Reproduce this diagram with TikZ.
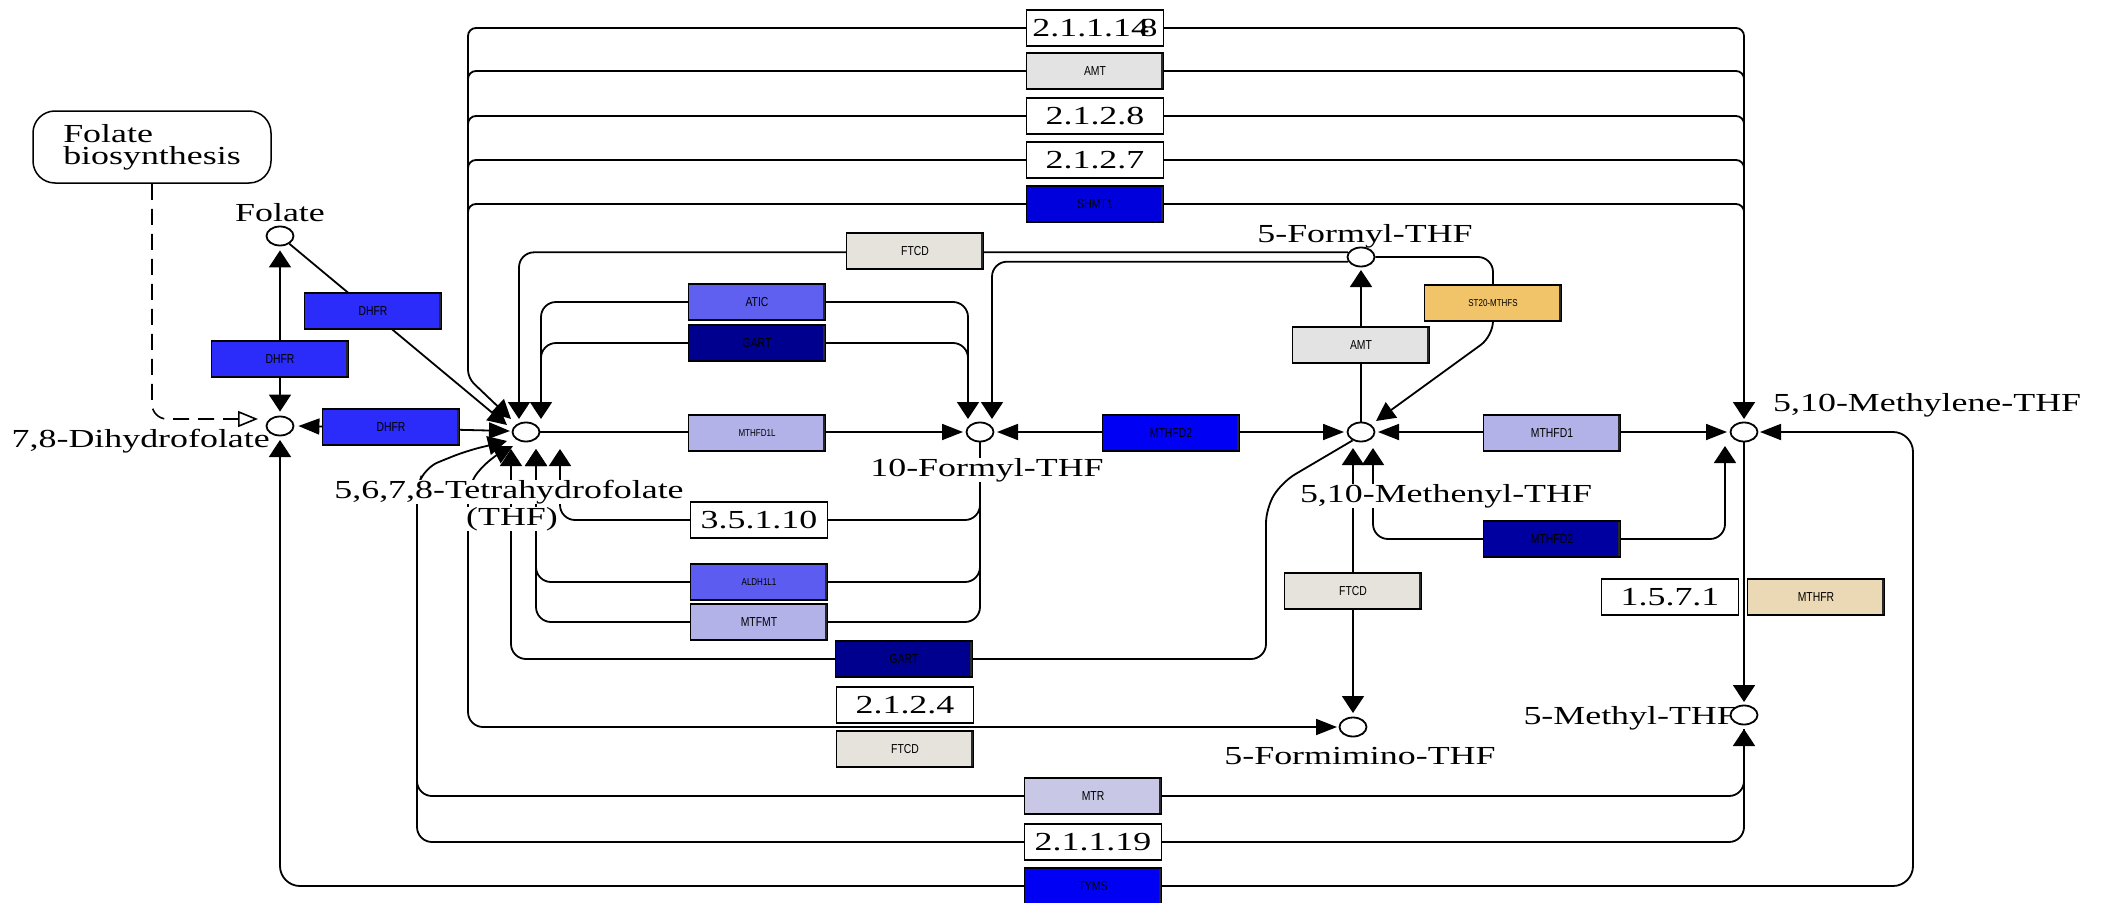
\documentclass[tikz,border=0pt]{standalone}
\usepackage{fontspec}
\usetikzlibrary{arrows.meta,shapes.geometric}
\newfontfamily\keggserif[FakeStretch=1.38]{Liberation Serif}
\newfontfamily\keggsans[FakeStretch=0.8]{Liberation Sans}
\newcommand\cpdfont{\keggserif\fontsize{26}{22}\selectfont}
\newcommand\genefont{\keggsans\fontsize{13}{14}\selectfont}
\newcommand\sgenefont{\keggsans\fontsize{10}{11}\selectfont}
\definecolor{cDHFR}{RGB}{43,43,250}
\definecolor{cSHMT}{RGB}{0,0,220}
\definecolor{cFTCD}{RGB}{230,227,220}
\definecolor{cATIC}{RGB}{96,96,240}
\definecolor{cGART}{RGB}{0,0,142}
\definecolor{cLIGHT}{RGB}{178,178,232}
\definecolor{cMTHFDtwo}{RGB}{0,0,245}
\definecolor{cMTHFDtwob}{RGB}{0,0,160}
\definecolor{cAMT}{RGB}{227,227,227}
\definecolor{cMTHFS}{RGB}{242,196,106}
\definecolor{cALDH}{RGB}{92,92,240}
\definecolor{cMTR}{RGB}{200,200,230}
\definecolor{cTYMS}{RGB}{0,0,245}
\definecolor{cMTHFR}{RGB}{235,216,180}
\definecolor{cEdge}{RGB}{40,40,40}
\pgfdeclarelayer{bg}
\pgfsetlayers{bg,main}
\tikzset{
  kv/.tip={Triangle[length=17pt,width=22pt]},
  kh/.tip={Triangle[length=21pt,width=16pt]},
  kd/.tip={Triangle[length=19pt,width=19pt]},
  ko/.tip={Triangle[open,length=20pt,width=16pt]},
  conn/.style={line width=1.8pt, rounded corners=15pt},
  gene/.style={draw, line width=1.5pt, minimum width=137pt, minimum height=36pt, inner sep=0pt, font=\genefont,
    path picture={\draw[cEdge, line width=5pt] (path picture bounding box.north east) -- (path picture bounding box.south east);}},
  ec/.style={draw, line width=1.5pt, minimum width=137pt, minimum height=36pt, inner sep=0pt, fill=white, font=\cpdfont},
  cpd/.style={ellipse, draw, line width=1.8pt, fill=white, minimum width=27pt, minimum height=19pt, inner sep=0pt},
  lbl/.style={font=\cpdfont, inner sep=0pt, fill=white},
}
\begin{document}
\begin{tikzpicture}[x=1pt,y=-1pt]
\useasboundingbox (0,0) rectangle (2109,902);

% ---------- enzyme boxes ----------
\node[ec] (e2111148) at (1095,28) {2.1.1.14\kern-0.36em 8};
\node[gene, fill=cAMT] (amtA) at (1095,71) {AMT};
\node[ec] (e2128) at (1095,116) {2.1.2.8};
\node[ec] (e2127) at (1095,160) {2.1.2.7};
\node[gene, fill=cSHMT] (shmt) at (1095,204) {SHMT1};
\node[gene, fill=cFTCD] (ftcdA) at (915,251) {FTCD};
\node[gene, fill=cATIC] (atic) at (757,302) {ATIC};
\node[gene, fill=cGART] (gartA) at (757,343) {GART};
\node[gene, fill=cLIGHT, font=\sgenefont] (mthfdil) at (757,433) {MTHFD1L};
\node[gene, fill=cMTHFDtwo] (mthfdii) at (1171,433) {MTHFD2};
\node[gene, fill=cAMT] (amtB) at (1361,345) {AMT};
\node[gene, fill=cMTHFS, font=\sgenefont] (mthfs) at (1493,303) {ST20-MTHFS};
\node[gene, fill=cLIGHT] (mthfdi) at (1552,433) {MTHFD1};
\node[gene, fill=cMTHFDtwob] (mthfdiib) at (1552,539) {MTHFD2};
\node[gene, fill=cFTCD] (ftcdB) at (1353,591) {FTCD};
\node[ec] (e1571) at (1670,597) {1.5.7.1};
\node[gene, fill=cMTHFR] (mthfr) at (1816,597) {MTHFR};
\node[ec] (e35110) at (759,520) {3.5.1.10};
\node[gene, fill=cALDH, font=\sgenefont] (aldh) at (759,582) {ALDH1L1};
\node[gene, fill=cLIGHT] (mtfmt) at (759,622) {MTFMT};
\node[gene, fill=cGART] (gartB) at (904,659) {GART};
\node[ec] (e2124) at (905,705) {2.1.2.4};
\node[gene, fill=cFTCD] (ftcdC) at (905,749) {FTCD};
\node[gene, fill=cMTR] (mtr) at (1093,796) {MTR};
\node[ec] (e21119) at (1093,842) {2.1.1.19};
\node[gene, fill=cTYMS] (tyms) at (1093,886) {TYMS};
\node[gene, fill=cDHFR] (dhfrA) at (373,311) {DHFR};
\node[gene, fill=cDHFR] (dhfrB) at (280,359) {DHFR};
\node[gene, fill=cDHFR] (dhfrC) at (391,427) {DHFR};

% ---------- map link ----------
\node[draw, line width=1.5pt, rounded corners=22pt, minimum width=238pt, minimum height=72pt,
      align=left, font=\cpdfont] (fb) at (152,147) {Folate\\biosynthesis};

% ---------- compound labels ----------
\node[lbl, anchor=base] (lfolate) at (280,221) {Folate};
\node[lbl, anchor=base east] (ldhf) at (270,447) {7,8-Dihydrofolate};
\node[lbl, anchor=base] (lthf) at (509,498) {5,6,7,8-Tetrahydrofolate};
\node[lbl, anchor=base] (lthfb) at (512,525) {(THF)};
\node[lbl, anchor=base] (ltfx) at (987,476) {10-Formyl-THF};
\node[lbl, anchor=base] (lfmyl) at (1365,242) {5-Formyl-THF};
\node[lbl, anchor=base] (lmeth) at (1446,502) {5,10-Methenyl-THF};
\node[lbl, anchor=base west] (lmlene) at (1773,411) {5,10-Methylene-THF};
\node[lbl, anchor=base] (lfimino) at (1360,764) {5-Formimino-THF};
\node[lbl, anchor=base east] (lmthyl) at (1737,724) {5-Methyl-THF};

% ---------- compounds ----------
\node[cpd] (folate) at (280,236) {};
\node[cpd] (dhf) at (280,426) {};
\node[cpd] (thf) at (526,432) {};
\node[cpd] (tfx) at (980,432) {};
\node[cpd] (fmyl) at (1361,257) {};
\node[cpd] (meth) at (1361,432) {};
\node[cpd] (mlene) at (1744,432) {};
\node[cpd] (fimino) at (1353,727) {};
\node[cpd] (mthyl) at (1744,715) {};

% ---------- arrow tip points ----------
\coordinate (thfA) at (511,419);
\coordinate (thfF) at (507,425);
\coordinate (thfD) at (510,431);
\coordinate (thfB) at (519,419);
\coordinate (thfC) at (541,419);
\coordinate (thfE) at (511,449);
\coordinate (thfH) at (536,449);
\coordinate (thfG) at (560,449);
\coordinate (thfI) at (513,446);
\coordinate (thfJ) at (507,441);
\coordinate (tfxA) at (968,419);
\coordinate (tfxB) at (992,419);
\coordinate (tfxL) at (963,432);
\coordinate (tfxR) at (997,432);
\coordinate (methL) at (1344,432);
\coordinate (methR) at (1378,432);
\coordinate (methU) at (1376,421);
\coordinate (methBa) at (1353,448);
\coordinate (methBb) at (1373,448);
\coordinate (fmylS) at (1361,270);
\coordinate (mleneT) at (1744,419);
\coordinate (mleneL) at (1727,432);
\coordinate (mleneR) at (1760,432);
\coordinate (mleneB) at (1725,446);
\coordinate (fiminoT) at (1353,713);
\coordinate (fiminoL) at (1337,727);
\coordinate (mthylT) at (1744,702);
\coordinate (mthylB) at (1744,729);
\coordinate (dhfB) at (280,440);
\coordinate (dhfO) at (258,419);

% ---------- connectors ----------
\begin{pgfonlayer}{bg}
% THF <-> 5,10-methylene-THF (top loop)
\draw[conn, rounded corners=8pt, {kd}-{kv}] (thfA) -- (468,378) -- (468,28) -- (1744,28) -- (mleneT);
\foreach \yy in {71,116,160,204}
  \draw[conn, rounded corners=8pt] (468,\yy+30) |- (1744,\yy) -- (1744,\yy+30);
% folate
\draw[conn, -{kd}] (folate) -- (thfF);
\draw[conn, {kv}-{kv}] ([yshift=-4pt]folate.south) -- ([yshift=4pt]dhf.north);
\draw[conn, {kh}-{kh}] ([xshift=4pt]dhf.east) -- (thfD);
\draw[line width=1.6pt, dash pattern=on 16pt off 9pt, rounded corners=15pt, -{ko}] (fb.south) |- (dhfO);
% 5-formyl-THF -> THF, -> 10-formyl-THF
\draw[conn, -{kv}] (fmyl.160) -| (thfB);
\draw[conn, -{kv}] (fmyl.200) -| (tfxB);
% ATIC, GART
\draw[conn, {kv}-{kv}] (thfC) |- (atic.center) -| (tfxA);
\draw[conn] (541,385) |- (gartA.center) -| (968,385);
% main row
\draw[conn, -{kh}] (thf) -- (tfxL);
\draw[conn, {kh}-{kh}] (tfxR) -- (methL);
\draw[conn, {kh}-{kh}] (methR) -- (mleneL);
% methenyl <-> 5-formyl
\draw[conn, -{kv}] (meth) -- (fmylS);
\draw[conn, -{kd}] (fmyl.east) -- (1493,257) -- (1493,336) -- (methU);
% GART (methenyl -> THF)
\draw[conn, -{kv}] (meth.225) -- (1282,482) -- (1266,508) -- (1266,659) -- (thfE |- gartB.center) -- (thfE);
% 10-formyl -> THF
\draw[conn, -{kv}] (tfx.south) |- (e35110.center) -| (thfG);
\draw[conn, -{kv}] (tfx.south) |- (aldh.center) -| (thfH);
\draw[conn, -{kv}] (tfx.south) |- (mtfmt.center) -| (thfH);
% THF <-> 5-formimino-THF
\draw[conn, {kd}-{kh}] (thfI) -- (490,458) -- (468,484) |- (fiminoL);
% THF <-> 5-methyl-THF
\draw[conn, {kd}-{kv}] (thfJ) -- (466,451) -- (424,468) -- (417,490) |- (mtr.center) -| (mthylB);
\draw[conn] (417,600) |- (e21119.center) -| (mthylB);
% methenyl <-> formimino, methylene
\draw[conn, {kv}-{kv}] (methBa) -- (fiminoT);
\draw[conn, {kv}-{kv}] (methBb) |- (mthfdiib.center) -| (mleneB);
% methylene -> 5-methyl
\draw[conn, -{kv}] (mlene) -- (mthylT);
% TYMS
\draw[conn, rounded corners=20pt, {kh}-{kv}] (mleneR) -- (1913,432) |- (tyms.center) -| (dhfB);
\end{pgfonlayer}
\end{tikzpicture}
\end{document}
